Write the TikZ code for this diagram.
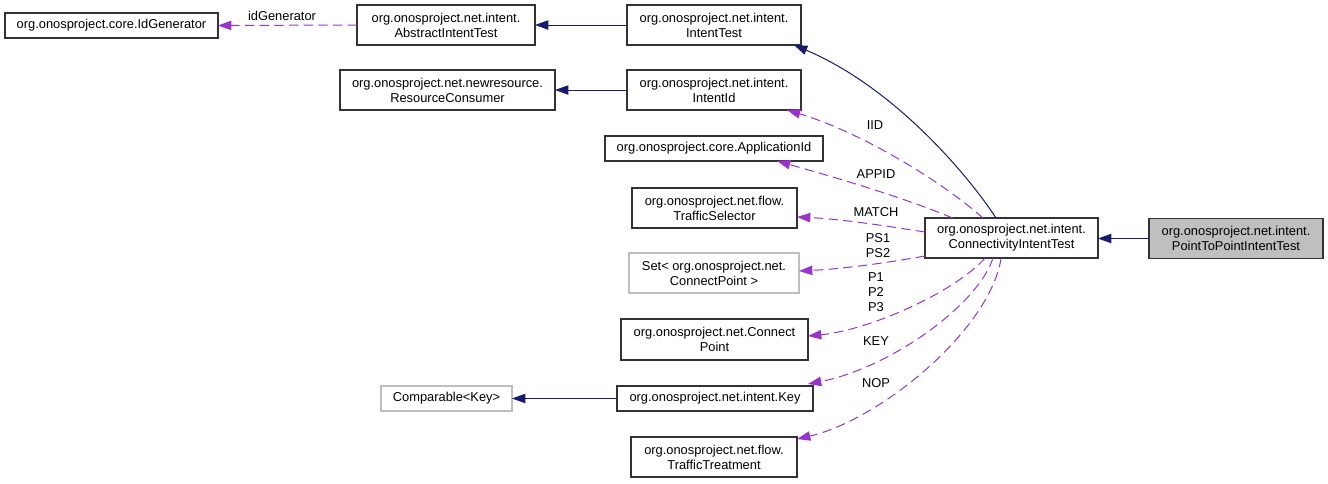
\documentclass[tikz,border=0pt]{standalone}
\usepackage{fontspec}
\setmainfont{Liberation Sans}
\usetikzlibrary{arrows.meta,calc}
\definecolor{navy}{HTML}{191970}
\definecolor{orch}{HTML}{9A32CD}
\definecolor{lightedge}{HTML}{BFBFBF}
\definecolor{boxedge}{HTML}{333333}
\definecolor{mainfill}{HTML}{BFBFBF}
\begin{document}
\begin{tikzpicture}[x=0.75pt,y=-0.75pt,
  every node/.style={font=\fontsize{9.65pt}{11.2pt}\selectfont, inner sep=0pt, outer sep=0pt},
  cls/.style={draw=boxedge, line width=0.8pt, align=center, fill=white},
  ext/.style={draw=lightedge, line width=0.8pt, align=center, fill=white},
  sz/.style 2 args={minimum width=#1*0.75pt, minimum height=#2*0.75pt},
  inh/.style={draw=navy, line width=0.75pt, -{Triangle[length=10pt,width=7pt]}, color=navy},
  use/.style={draw=orch, line width=0.75pt, dash pattern=on 7pt off 4pt, -{Triangle[length=10pt,width=7pt]}, color=orch},
  lbl/.style={align=center, text=black}
]
\useasboundingbox (0,0) rectangle (1328,483);
\fill[white] (0,0) rectangle (1328,483);

% nodes
\node[cls, sz={213}{25}] (idg) at (111.5,25.5) {org.onosproject.core.IdGenerator};
\node[cls, sz={178}{40}] (abs) at (446,25) {org.onosproject.net.intent.\\AbstractIntentTest};
\node[cls, sz={174}{40}] (it) at (714,25) {org.onosproject.net.intent.\\IntentTest};
\node[cls, sz={215}{40}] (rc) at (447.5,90) {org.onosproject.net.newresource.\\ResourceConsumer};
\node[cls, sz={174}{40}] (iid) at (714,90) {org.onosproject.net.intent.\\IntentId};
\node[cls, sz={218}{25}] (app) at (714,148.5) {org.onosproject.core.ApplicationId};
\node[cls, sz={165}{40}] (ts) at (714.5,208) {org.onosproject.net.flow.\\TrafficSelector};
\node[ext, sz={170}{40}] (set) at (714,273) {Set< org.onosproject.net.\\ConnectPoint >};
\node[cls, sz={187}{41}] (cp) at (714.5,339.5) {org.onosproject.net.Connect\\Point};
\node[cls, sz={196}{25}] (key) at (715,398.5) {org.onosproject.net.intent.Key};
\node[cls, sz={166}{40}] (tt) at (714,457) {org.onosproject.net.flow.\\TrafficTreatment};
\node[ext, sz={131}{25}] (cmp) at (446.5,398.5) {Comparable<Key>};
\node[cls, sz={173}{40}] (conn) at (1011.5,238) {org.onosproject.net.intent.\\ConnectivityIntentTest};
\node[cls, fill=mainfill, sz={174}{40}] (p2p) at (1236,238.5) {org.onosproject.net.intent.\\PointToPointIntentTest};

% inheritance
\draw[inh] (it.west) -- (abs.east);
\draw[inh] (iid.west) -- (rc.east);
\draw[inh] (key.west) -- (cmp.east);
\draw[inh] (p2p.west) -- (p2p.west -| conn.east);
\draw[inh] ($(conn.north west)!0.41!(conn.north east)$) .. controls (975,185) and (900,90) .. ($(it.south east)+(-7,0)$);

% usage
\draw[use] (abs.west) -- (idg.east);
\node[lbl] (lidg) at (282,16) {idGenerator};

\draw[use] ($(conn.north west)!0.335!(conn.north east)$) .. controls (940,180) and (860,132) .. ($(iid.south east)+(-14,0)$);
\node[lbl] (liid) at (875,125) {IID};

\draw[use] ($(conn.north west)!0.16!(conn.north east)$) .. controls (900,196) and (830,176) .. ($(app.south east)+(-46,0)$);
\node[lbl] (lapp) at (876,174) {APPID};

\draw[use] ($(conn.west)+(0,-6)$) .. controls (880,225) and (840,219) .. (ts.east |- 0,217);
\node[lbl] (lmatch) at (876,212) {MATCH};

\draw[use] ($(conn.south west)+(0,-2)$) .. controls (880,264) and (840,269) .. (set.east |- 0,271);
\node[lbl] (lps) at (878,246) {PS1\\PS2};

\draw[use] ($(conn.south west)!0.347!(conn.south east)$) .. controls (955,292) and (870,330) .. (cp.east |- 0,336);
\node[lbl] (lp) at (876,292) {P1\\P2\\P3};

\draw[use] ($(conn.south west)!0.393!(conn.south east)$) .. controls (978,305) and (890,368) .. ($(key.north east)+(-5,-2)$);
\node[lbl] (lkey) at (876,341) {KEY};

\draw[use] ($(conn.south west)!0.44!(conn.south east)$) .. controls (990,330) and (880,420) .. ($(tt.north east)+(0,2)$);
\node[lbl] (lnop) at (876,383) {NOP};
\end{tikzpicture}
\end{document}
